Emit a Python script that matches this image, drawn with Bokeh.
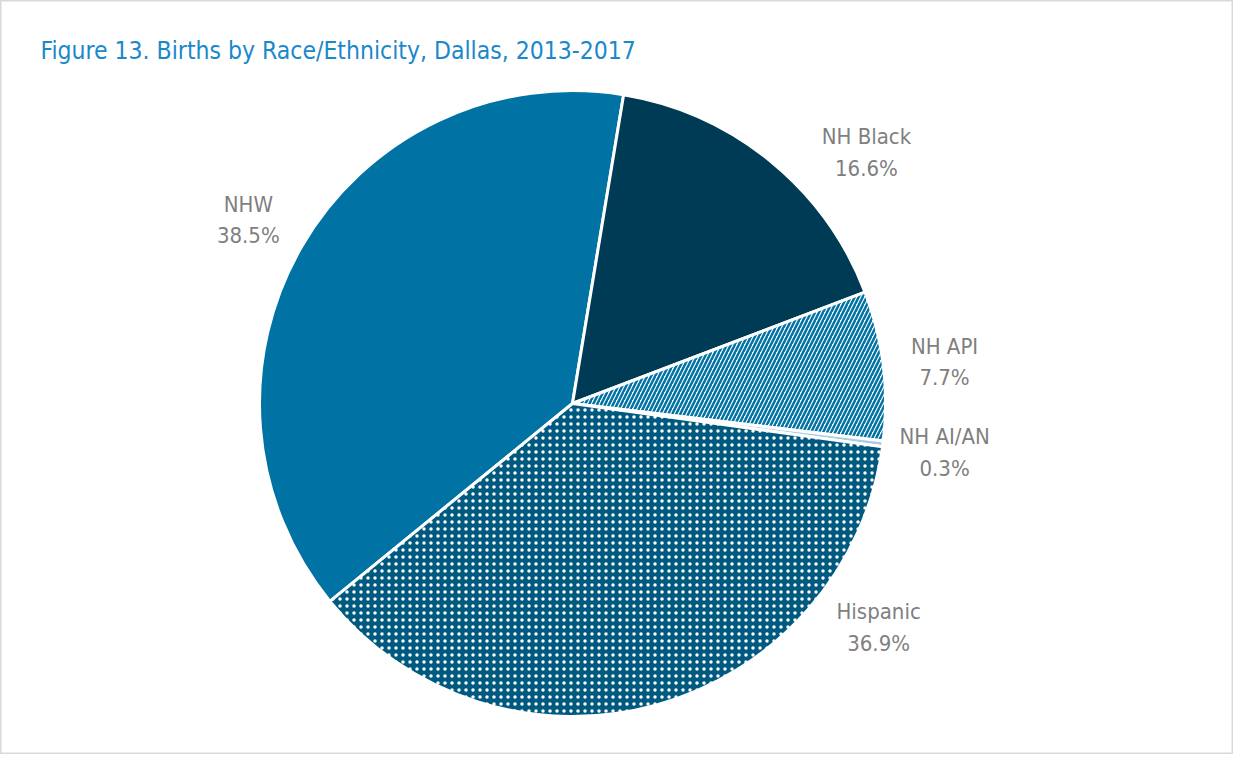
import math
from bokeh.plotting import figure
from bokeh.models import Range1d, ColumnDataSource, Label
from bokeh.core.properties import value
from bokeh.embed import file_html
from bokeh.resources import INLINE

# ---- data ----
categories = ["NHW", "NH Black", "NH API", "NH AI/AN", "Hispanic"]
percents = [38.5, 16.6, 7.7, 0.3, 36.9]
title_text = "Figure 13. Births by Race/Ethnicity, Dallas, 2013-2017"

# ---- style / layout ----
fill_colors = ["#0072A3", "#003B55", "#FFFFFF", "#A9CCE3", "#005A80"]
hatch_patterns = [" ", " ", "/", " ", "dot"]
hatch_colors = ["#0072A3", "#003B55", "#0072A3", "#A9CCE3", "#FFFFFF"]
hatch_scales = [6, 6, 8, 6, 7]
hatch_weights = [1, 1, 2.5, 1, 1]
first_slice_deg = 230.8          # clockwise from 12 o'clock
label_deg = [299.5, 49.5, 83.6, 97.5, 126.2]
label_r = [1.19, 1.235, 1.196, 1.199, 1.212]

W, H = 1233, 754
CX, CY, R = 572, 770 - 403, 313
FONT = "'Liberation Sans Narrow', 'DejaVu Sans Condensed', 'Roboto', sans-serif"

p = figure(width=W, height=H, x_range=Range1d(0, W), y_range=Range1d(770 - H, 770),
           output_backend="svg", toolbar_location=None, title=None,
           x_axis_location=None, y_axis_location=None, min_border=0)
p.grid.visible = False
p.outline_line_color = "#D9D9D9"
p.outline_line_width = 2
p.background_fill_color = "white"
p.border_fill_color = "white"

total = sum(percents)
starts, ends, lx, ly, labels = [], [], [], [], []
cum = first_slice_deg
for i, v in enumerate(percents):
    a0 = cum
    a1 = cum + v / total * 360.0
    cum = a1
    starts.append(math.radians(90 - a0))
    ends.append(math.radians(90 - a1))
    t = math.radians(label_deg[i])
    lx.append(CX + R * label_r[i] * math.sin(t))
    ly.append(CY + R * label_r[i] * math.cos(t))
    labels.append(f"{categories[i]}\n{v:.1f}%")

src = ColumnDataSource(dict(cat=categories, start=starts, end=ends,
                            fill=fill_colors, hp=hatch_patterns, hc=hatch_colors,
                            hs=hatch_scales, hw=hatch_weights))
p.wedge(x=CX, y=CY, radius=R, start_angle="start", end_angle="end", direction="clock",
        fill_color="fill", hatch_pattern="hp", hatch_color="hc", hatch_scale="hs",
        hatch_weight="hw", line_color="white", line_width=3, source=src)

lsrc = ColumnDataSource(dict(x=lx, y=ly, t=labels))
p.text(x="x", y="y", text="t", source=lsrc, text_align="center", text_baseline="middle",
       text_font=value(FONT), text_font_size="22px", text_color="#7F7F7F",
       text_line_height=1.25)

p.add_layout(Label(x=40, y=770 - 50, text=title_text, text_font=FONT,
                   text_font_size="24.5px", text_color="#1B88CA",
                   text_baseline="middle", text_align="left"))

open("out.html", "w").write(file_html(p, INLINE))
